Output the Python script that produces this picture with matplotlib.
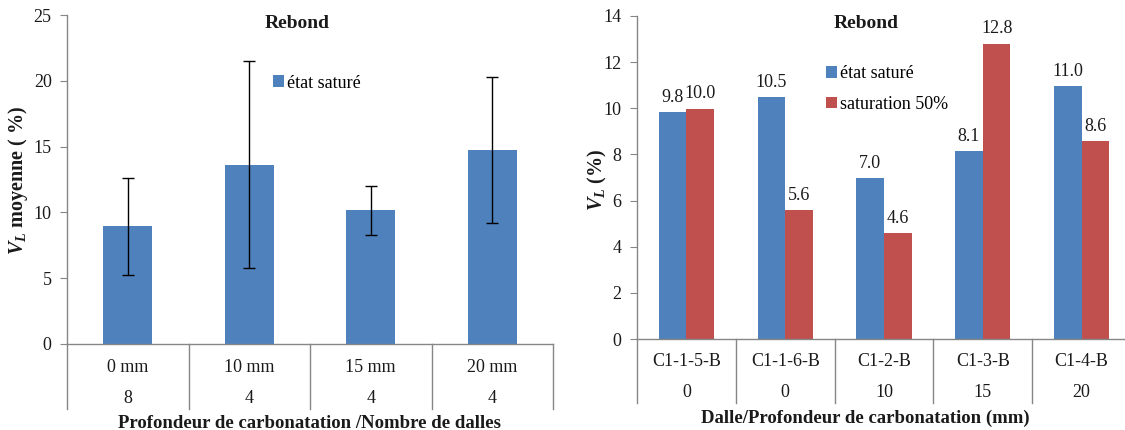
import matplotlib
matplotlib.use("Agg")
import matplotlib.pyplot as plt

plt.rcParams["font.family"] = ["Liberation Serif", "DejaVu Serif"]
plt.rcParams["mathtext.fontset"] = "custom"
plt.rcParams["mathtext.it"] = "Liberation Serif:bold:italic"
plt.rcParams["mathtext.rm"] = "Liberation Serif:bold"
plt.rcParams["mathtext.bf"] = "Liberation Serif:bold"

BLUE = "#4F81BD"
RED = "#C0504D"
AXIS = "#868686"
TXT = "#1a1a1a"
W, H = 1125, 430

# ---------- données : graphique gauche ----------
profondeurs = ["0 mm", "10 mm", "15 mm", "20 mm"]
nb_dalles = ["8", "4", "4", "4"]
vl_moyenne = [8.95, 13.62, 10.15, 14.75]
vl_ecart = [3.68, 7.88, 1.89, 5.57]

# ---------- données : graphique droit ----------
dalles = ["C1-1-5-B", "C1-1-6-B", "C1-2-B", "C1-3-B", "C1-4-B"]
prof_dalle = ["0", "0", "10", "15", "20"]
vl_sature = [9.82, 10.47, 6.98, 8.13, 10.97]
vl_sat50 = [9.98, 5.59, 4.59, 12.80, 8.57]


def fx(px):
    return px / W


def fy(py):
    return 1 - py / H


def setup(ax, ymax, ystep):
    ax.set_ylim(0, ymax)
    ax.set_yticks(range(0, ymax + 1, ystep))
    for s in ["top", "right"]:
        ax.spines[s].set_visible(False)
    for s in ["left", "bottom"]:
        ax.spines[s].set_color(AXIS)
        ax.spines[s].set_linewidth(1.0)
    ax.tick_params(axis="y", direction="out", length=5, color=AXIS,
                   labelsize=13, labelcolor=TXT, pad=6)
    ax.tick_params(axis="x", bottom=False, labelbottom=False)


def cat_axis(ax, row1, row2, y1, y2, ysep):
    n = len(row1)
    tr = ax.get_xaxis_transform()
    for i in range(n + 1):
        ax.plot([i - 0.5, i - 0.5], [0, ysep], transform=tr, color=AXIS,
                lw=1.0, clip_on=False)
    for i in range(n):
        ax.text(i, y1, row1[i], transform=tr, ha="center", va="center",
                fontsize=13, color=TXT)
        ax.text(i, y2, row2[i], transform=tr, ha="center", va="center",
                fontsize=13, color=TXT)


fig = plt.figure(figsize=(W / 100, H / 100), dpi=100)
fig.patch.set_facecolor("white")

# ---------- gauche ----------
ax1 = fig.add_axes([fx(67), fy(344), fx(553 - 67), (344 - 15) / H])
setup(ax1, 25, 5)
x1 = range(len(profondeurs))
ax1.bar(x1, vl_moyenne, width=0.4, color=BLUE, label="état saturé", zorder=2)
ax1.errorbar(x1, vl_moyenne, yerr=vl_ecart, fmt="none", ecolor="black",
             elinewidth=1.0, capsize=4, capthick=1.0, zorder=3)
ax1.set_xlim(-0.5, len(profondeurs) - 0.5)
cat_axis(ax1, profondeurs, nb_dalles, -0.07, -0.167, -0.198)
ax1.legend(loc="center left", bbox_to_anchor=(fx(273), fy(83)),
           bbox_transform=fig.transFigure, frameon=False, fontsize=13,
           handlelength=0.6, handleheight=0.6, handletextpad=0.2,
           borderpad=0, borderaxespad=0)

fig.text(fx(297), fy(23), "Rebond", ha="center", va="center",
         fontsize=14, fontweight="bold", color=TXT)
fig.text(fx(309), fy(423), "Profondeur de carbonatation /Nombre de dalles",
         ha="center", va="center", fontsize=13.5, fontweight="bold", color=TXT)
fig.text(fx(18), fy(180), r"$V_L$ moyenne ( %)", rotation=90,
         ha="center", va="center", fontsize=14.5, fontweight="bold", color=TXT)

# ---------- droite ----------
ax2 = fig.add_axes([fx(637), fy(339), fx(1131 - 637), (339 - 16) / H])
setup(ax2, 14, 2)
x2 = list(range(len(dalles)))
bw = 0.28
b1 = ax2.bar([i - bw / 2 for i in x2], vl_sature, width=bw, color=BLUE,
             label="état saturé", zorder=2)
b2 = ax2.bar([i + bw / 2 for i in x2], vl_sat50, width=bw, color=RED,
             label="saturation 50%", zorder=2)
for bars, vals in ((b1, vl_sature), (b2, vl_sat50)):
    for b, v in zip(bars, vals):
        ax2.annotate(f"{v:.1f}", (b.get_x() + b.get_width() / 2, v),
                     xytext=(0, 4.5), textcoords="offset points",
                     ha="center", va="bottom", fontsize=13, color=TXT)
ax2.set_xlim(-0.5, len(dalles) - 0.5)
cat_axis(ax2, dalles, prof_dalle, -0.071, -0.167, -0.198)
ax2.legend(loc="center left", bbox_to_anchor=(fx(826), fy(89)),
           bbox_transform=fig.transFigure, frameon=False, fontsize=13,
           handlelength=0.6, handleheight=0.6, handletextpad=0.2,
           labelspacing=0.75, borderpad=0, borderaxespad=0)

fig.text(fx(866), fy(23), "Rebond", ha="center", va="center",
         fontsize=14, fontweight="bold", color=TXT)
fig.text(fx(865), fy(418), "Dalle/Profondeur de carbonatation (mm)",
         ha="center", va="center", fontsize=13.5, fontweight="bold", color=TXT)
fig.text(fx(597), fy(180), r"$V_L$ (%)", rotation=90,
         ha="center", va="center", fontsize=14.5, fontweight="bold", color=TXT)

fig.savefig("out.png", dpi=100, facecolor="white")
